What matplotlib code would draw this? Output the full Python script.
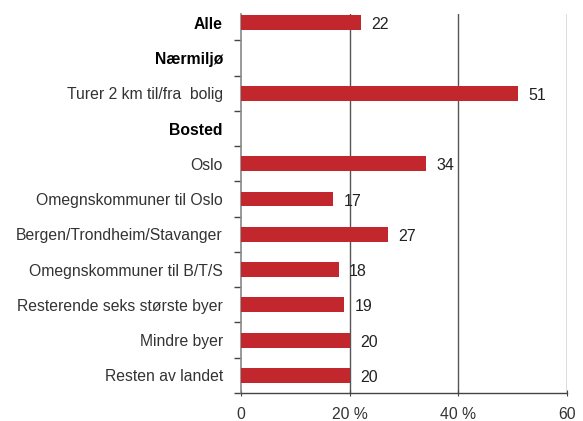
import matplotlib
matplotlib.use("Agg")
import matplotlib.pyplot as plt
import numpy as np

plt.rcParams['font.family'] = ['Liberation Sans', 'DejaVu Sans']

categories = ["Alle", "Nærmiljø", "Turer 2 km til/fra  bolig", "Bosted", "Oslo",
              "Omegnskommuner til Oslo", "Bergen/Trondheim/Stavanger",
              "Omegnskommuner til B/T/S", "Resterende seks største byer",
              "Mindre byer", "Resten av landet"]
values = [22, None, 51, None, 34, 17, 27, 18, 19, 20, 20]
bold_labels = ["Alle", "Nærmiljø", "Bosted"]
xtick_values = [0, 20, 40, 60]
xtick_labels = ["0", "20 %", "40 %", "60"]

fig = plt.figure(figsize=(5.83, 4.21), dpi=100)
ax = fig.add_axes([241/583, 1-393/421, (567-241)/583, (393-14)/421])

n = len(categories)
y = np.arange(n)
red = "#C1272D"
for yi, v in zip(y, values):
    if v is None:
        continue
    ax.barh(yi, v, height=0.42, color=red, zorder=3)
    ax.text(v + 1.9, yi + 0.06, str(v), va='center', ha='left', fontsize=11.5, color='#222222')

ax.set_xlim(0, 60)
ax.set_ylim(n - 0.5, -0.25)

ax.set_yticks(y)
ax.set_yticklabels(categories)
for lbl in ax.get_yticklabels():
    if lbl.get_text() in bold_labels:
        lbl.set_fontweight('bold')
        lbl.set_color('black')
    else:
        lbl.set_color('#333333')
    lbl.set_fontsize(11.3)
ax.tick_params(axis='y', which='major', length=0, pad=13)
ax.set_yticks(np.arange(n) + 0.5, minor=True)
ax.tick_params(axis='y', which='minor', length=5, color='#444444', width=1)

ax.set_xticks(xtick_values)
ax.set_xticklabels(xtick_labels, fontsize=11.3, color='#333333')
ax.tick_params(axis='x', length=4, direction='inout', color='#444444', pad=8)

for x in [20, 40, 60]:
    ax.axvline(x, color='#555555', lw=1, zorder=1)

for s in ['top', 'right']:
    ax.spines[s].set_visible(False)
ax.spines['left'].set_color('#888888')
ax.spines['left'].set_linewidth(1.2)
ax.spines['bottom'].set_color('#444444')
ax.spines['bottom'].set_linewidth(1)

fig.savefig("out.png", dpi=100)
